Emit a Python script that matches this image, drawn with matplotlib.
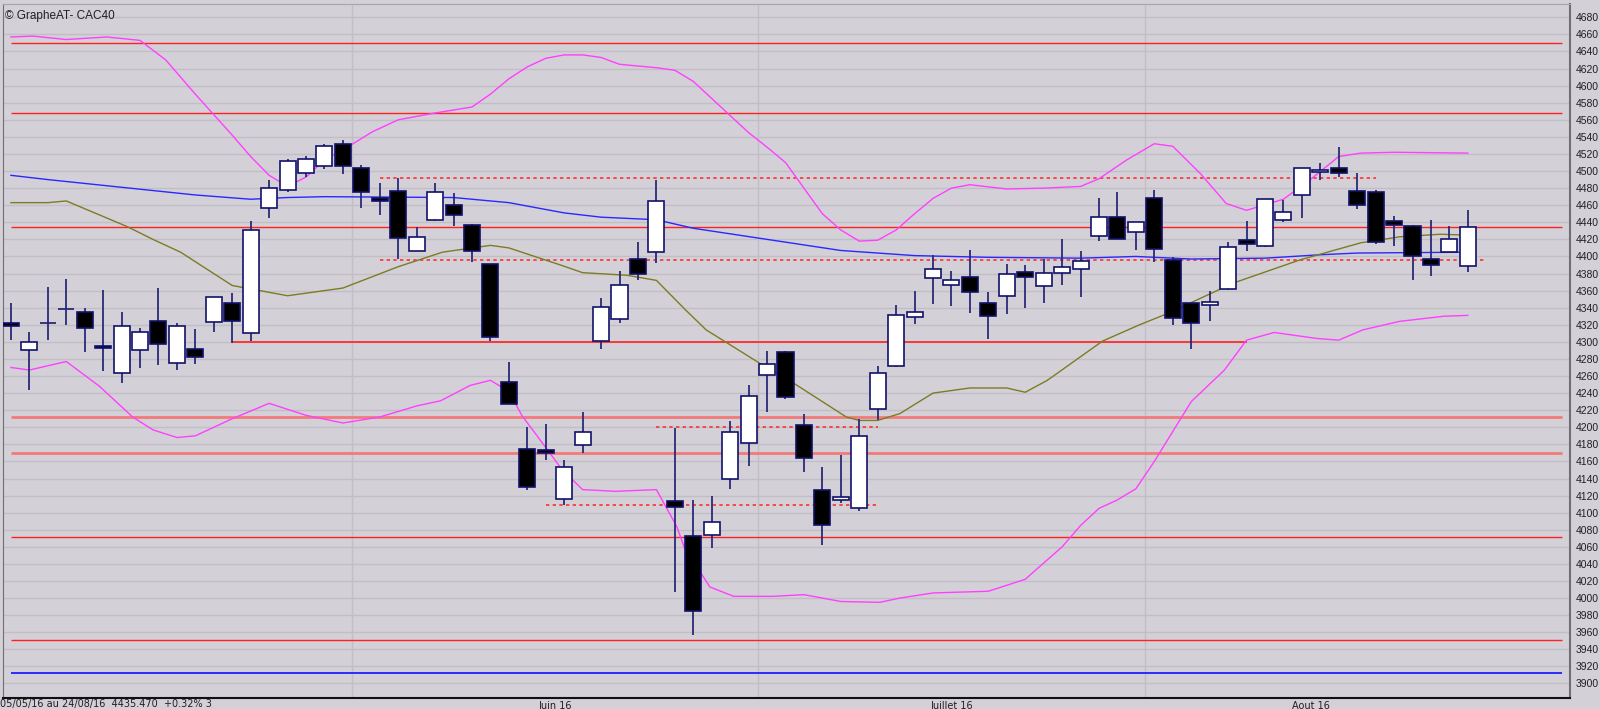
import matplotlib
matplotlib.use("Agg")
import matplotlib.pyplot as plt
from matplotlib.patches import Rectangle
import numpy as np
import pandas as pd

# trading days 05/05/16 -> 24/08/16
dates = pd.bdate_range("2016-05-05", "2016-08-24")

opens = [4321, 4290, 4322, 4338, 4335, 4295, 4264, 4291, 4325, 4275,
         4292, 4323, 4345, 4310, 4457, 4478, 4498, 4506, 4532, 4503,
         4468, 4477, 4406, 4443, 4460, 4437, 4391, 4253, 4175, 4172,
         4116, 4179, 4301, 4327, 4397, 4405, 4114, 4073, 4074, 4139,
         4182, 4261, 4288, 4203, 4127, 4115, 4106, 4221, 4272, 4329,
         4375, 4367, 4376, 4345, 4354, 4382, 4365, 4381, 4385, 4424,
         4446, 4429, 4469, 4396, 4346, 4344, 4362, 4419, 4412, 4443,
         4472, 4499, 4504, 4477, 4475, 4441, 4436, 4397, 4405, 4389]
highs = [4346, 4311, 4364, 4374, 4340, 4361, 4335, 4316, 4363, 4322,
         4315, 4353, 4357, 4441, 4489, 4514, 4518, 4532, 4536, 4507,
         4486, 4492, 4435, 4486, 4474, 4438, 4391, 4276, 4200, 4204,
         4162, 4218, 4351, 4383, 4417, 4490, 4199, 4115, 4119, 4207,
         4249, 4289, 4289, 4216, 4154, 4167, 4210, 4272, 4343, 4359,
         4402, 4383, 4408, 4358, 4391, 4390, 4397, 4420, 4406, 4469,
         4475, 4440, 4478, 4399, 4346, 4360, 4417, 4441, 4467, 4466,
         4504, 4510, 4528, 4498, 4478, 4447, 4437, 4443, 4436, 4454]
lows = [4302, 4244, 4302, 4320, 4288, 4266, 4252, 4269, 4273, 4267,
        4274, 4312, 4299, 4301, 4445, 4476, 4493, 4502, 4497, 4457,
        4448, 4397, 4406, 4441, 4436, 4394, 4301, 4227, 4127, 4162,
        4109, 4170, 4292, 4322, 4372, 4392, 4007, 3957, 4059, 4128,
        4155, 4218, 4233, 4148, 4062, 4111, 4102, 4208, 4271, 4321,
        4344, 4342, 4334, 4303, 4333, 4340, 4345, 4367, 4353, 4418,
        4420, 4408, 4394, 4320, 4292, 4324, 4361, 4406, 4411, 4440,
        4445, 4490, 4493, 4456, 4415, 4412, 4373, 4377, 4404, 4382]
closes = [4319, 4300, 4322, 4338, 4316, 4293, 4319, 4312, 4297, 4319,
          4282, 4353, 4325, 4431, 4480, 4512, 4514, 4529, 4506, 4476,
          4466, 4422, 4423, 4475, 4449, 4406, 4306, 4227, 4130, 4171,
          4153, 4194, 4341, 4367, 4380, 4465, 4107, 3985, 4089, 4195,
          4237, 4274, 4235, 4164, 4085, 4118, 4190, 4264, 4331, 4335,
          4385, 4372, 4358, 4330, 4379, 4376, 4381, 4388, 4395, 4446,
          4420, 4440, 4409, 4328, 4322, 4346, 4411, 4415, 4467, 4452,
          4504, 4501, 4498, 4460, 4417, 4437, 4401, 4390, 4421, 4435]

# moving averages (at a few vertices)
ma_long_x = [0, 2, 6, 10, 13, 15, 17, 24, 27, 30, 32, 35, 37, 41, 45, 49, 53, 58, 61, 64, 68, 71, 73, 79]
ma_long_y = [4495, 4490, 4481, 4472, 4467, 4469, 4470, 4469, 4463, 4451, 4446, 4443, 4433, 4420, 4407, 4401,
             4399, 4398, 4400, 4397, 4398, 4402, 4404, 4405]
ma_short_x = [0, 2, 3, 6.3, 7.7, 9.2, 12, 15, 18, 21, 23.4, 26, 27, 29.8, 31, 33.4, 35, 36.6, 37.7, 40.6,
              42.2, 45.3, 46, 47, 48.2, 50, 52, 54, 55, 56.2, 59.2, 61.2, 62.7, 66.3, 69.9, 73.2, 75.3, 77.5, 79]
ma_short_y = [4463, 4463, 4465, 4435, 4420, 4405, 4366, 4354, 4363, 4388, 4405, 4413, 4410, 4390, 4381,
              4378, 4372, 4337, 4314, 4275, 4255, 4212, 4208, 4208, 4216, 4240, 4246, 4246, 4241, 4255,
              4301, 4320, 4333, 4369, 4396, 4416, 4423, 4426, 4425]

# bollinger bands
bb_up_x = [0, 1.2, 3, 5.2, 7, 8.4, 10, 12, 13, 14, 15, 16, 17, 18.4, 19.6, 21, 23, 25, 26, 27, 28, 29, 30,
           31, 32, 33, 35, 36, 37, 38, 39, 40, 41, 42, 43, 44, 45, 46, 47, 48, 49, 50, 51, 52, 54, 56, 58,
           59, 60.5, 62, 63, 64.5, 65.9, 67, 69, 70.4, 72, 73.2, 75, 79]
bb_up_y = [4657, 4658, 4654, 4657, 4653, 4630, 4590, 4542, 4517, 4495, 4482, 4493, 4513, 4530, 4546, 4560,
           4568, 4575, 4590, 4608, 4622, 4632, 4636, 4636, 4633, 4625, 4621, 4618, 4605, 4585, 4565, 4545,
           4528, 4510, 4480, 4450, 4431, 4418, 4419, 4431, 4450, 4468, 4480, 4484, 4479, 4480, 4482, 4491,
           4513, 4532, 4529, 4497, 4462, 4454, 4467, 4489, 4517, 4521, 4522, 4521]
bb_lo_x = [0, 1, 3, 4.8, 6.6, 7.7, 9, 10, 12, 14, 16, 18, 20, 22, 23.3, 24.9, 26, 27, 27.7, 28.7, 29.9, 31,
           32.8, 35, 36.1, 36.5, 37.9, 39.2, 41.3, 43, 45, 47.1, 48.2, 50, 53, 55, 57, 58, 59, 60, 61, 62,
           63, 64, 65.8, 67, 68.5, 70.8, 72, 73.3, 75.3, 77.7, 79]
bb_lo_y = [4270, 4267, 4277, 4248, 4212, 4197, 4188, 4190, 4210, 4228, 4214, 4205, 4212, 4225, 4231, 4249,
           4255, 4242, 4214, 4185, 4150, 4127, 4125, 4127, 4084, 4060, 4013, 4002, 4002, 4004, 3996, 3995,
           4000, 4006, 4008, 4022, 4060, 4085, 4105, 4115, 4128, 4160, 4195, 4230, 4267, 4302, 4311, 4304,
           4302, 4314, 4324, 4330, 4331]

# horizontal levels
red_levels = [4650, 4568, 4435, 4072, 3951]
salmon_levels = [4212, 4170]
support_4300 = (4300, 12, 67)
dotted_levels = [(4492, 20, 74), (4396, 20, 80), (4200, 35, 47), (4109, 29, 47)]
blue_level = 3912

month_names = ["Juin 16", "Juillet 16", "Aout 16"]

BG = "#d4d0d8"
fig = plt.figure(figsize=(16, 7.09), dpi=100, facecolor=BG)
ax = fig.add_axes([3 / 1600, 11 / 709, 1567 / 1600, 694 / 709])
ax.set_facecolor(BG)

n = len(dates)
xs = np.arange(n)
ax.set_xlim(-0.43, 84.54)
ax.set_ylim(3883, 4695.6)

# grid
ax.set_yticks(np.arange(3900, 4681, 20))
ax.yaxis.tick_right()
ax.tick_params(axis="y", length=0, pad=4, labelsize=7.5, labelcolor="#202020")
for lab in ax.get_yticklabels():
    lab.set_family(["Liberation Sans", "DejaVu Sans"])
ax.set_xticks([])
ax.grid(axis="y", color="#c2bec6", linewidth=1.0)
ax.set_axisbelow(True)

months = dates.month
bounds = [i - 0.5 for i in range(1, n) if months[i] != months[i - 1]]
for b in bounds:
    ax.axvline(b, color="#c2bec6", linewidth=1.0, zorder=0.5)

# month labels centred on each month
for k, name in enumerate(month_names):
    m = months.unique()[k + 1]
    idx = np.where(months == m)[0]
    xc = (idx[0] + idx[-1]) / 2
    ax.text(xc, -0.004, name, transform=ax.get_xaxis_transform(), ha="center", va="top",
            fontsize=7, family=["Liberation Sans Narrow", "DejaVu Sans"], color="#202020")

# levels
for lv in red_levels:
    ax.hlines(lv, 0, 84.1, color="#ff2020", linewidth=1.0, zorder=1)
for lv in salmon_levels:
    ax.hlines(lv, 0, 84.1, color="#f27a7a", linewidth=2.0, zorder=1)
ax.hlines(blue_level, 0, 84.1, color="#1010ff", linewidth=1.2, zorder=1)
ax.hlines(support_4300[0], support_4300[1], support_4300[2], color="#ff2020", linewidth=1.2, zorder=1)
for lv, a, b in dotted_levels:
    ax.hlines(lv, a, b, color="#ff3030", linewidth=1.2, linestyles=(0, (2, 2)), zorder=1)

# indicators
ax.plot(bb_up_x, bb_up_y, color="#ff40ff", linewidth=1.0, zorder=2)
ax.plot(bb_lo_x, bb_lo_y, color="#ff40ff", linewidth=1.0, zorder=2)
ax.plot(ma_long_x, ma_long_y, color="#2828ff", linewidth=1.0, zorder=2)
ax.plot(ma_short_x, ma_short_y, color="#7c7c22", linewidth=1.0, zorder=2)

# candles
w = 0.87
edge = "#12126a"
for i in range(n):
    o, h, l, c = opens[i], highs[i], lows[i], closes[i]
    ax.vlines(xs[i], l, h, color="#2a2a78", linewidth=1.3, zorder=3)
    lo, hi = min(o, c), max(o, c)
    if hi - lo < 2.5:
        if o == c:
            ax.hlines(c, xs[i] - w / 2, xs[i] + w / 2, color="#2a2a78", linewidth=1.3, zorder=4)
            continue
        mid = (hi + lo) / 2
        lo, hi = mid - 1.6, mid + 1.6
    face = "white" if c > o else "black"
    ax.add_patch(Rectangle((xs[i] - w / 2, lo), w, hi - lo, facecolor=face, edgecolor=edge,
                           linewidth=1.2, zorder=4))

for side in ["top", "right", "left", "bottom"]:
    ax.spines[side].set_color("#707070")
ax.spines["bottom"].set_color("#101010")
ax.spines["bottom"].set_linewidth(1.5)
ax.spines["right"].set_linewidth(1.5)
ax.spines["top"].set_color("#a8a4ac")

ax.text(0.001, 0.992, "\u00a9 GrapheAT- CAC40", transform=ax.transAxes, ha="left", va="top",
        fontsize=8.5, family=["Liberation Sans", "DejaVu Sans"], color="#202020")
fig.text(0.0, 0.0, "05/05/16 au 24/08/16  4435.470  +0.32% 3", ha="left", va="bottom",
         fontsize=7, family=["Liberation Sans Narrow", "DejaVu Sans"], color="#202020")

fig.savefig("out.png", dpi=100, facecolor=BG)
